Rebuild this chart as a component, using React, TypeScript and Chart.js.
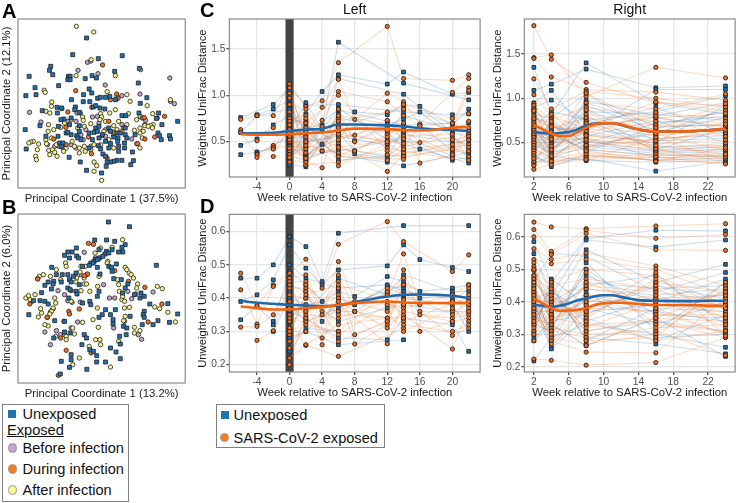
import React, { useEffect, useRef } from "react";
import { Chart, registerables } from "chart.js";

Chart.register(...registerables);

const _ = null;
const FONT = "'Liberation Sans', Arial, sans-serif";
const BLUE = "#2271b0";
const ORANGE = "#f26d1c";
const PURPLE = "#c2a5cf";
const YELLOW = "#f6f38e";
const EDGE = "#222222";

// ---------- PCoA scores (thousandths) ----------
const aUnexposed = [[-38,185],[-80,135],[-2,123],[71,132],[-147,100],[-151,88],[-141,75],[-213,70],[-93,70],[-88,70],[-95,60],[-88,60],[-42,63],[-21,72],[-8,65],[48,85],[123,94],[-195,36],[-123,42],[-30,32],[-22,20],[-192,15],[-223,12],[-84,0],[-47,15],[-48,-6],[-28,-6],[-4,4],[20,7],[33,10],[4,7],[120,50],[146,6],[126,-11],[50,0],[-17,-22],[-10,-18],[-72,-22],[-128,-23],[-114,-25],[-173,-33],[-127,-40],[-74,-30],[-60,-38],[3,-25],[18,-28],[70,-48],[82,-48],[122,-40],[182,-40],[175,-56],[-85,-55],[-107,-58],[-116,-60],[-180,-78],[-225,-90],[-124,-80],[-90,-75],[-60,-78],[-10,-85],[0,-80],[30,-85],[55,-100],[80,-85],[240,-65],[192,-75],[-100,-100],[-85,-105],[-68,-108],[-60,-95],[-30,-100],[-15,-98],[-5,-95],[10,-105],[35,-95],[45,-112],[58,-115],[65,-100],[80,-105],[110,-105],[180,-100],[185,-108],[215,-108],[218,-118],[190,-120],[-162,-110],[-120,-130],[-110,-130],[-115,-140],[-65,-115],[-55,-120],[-20,-120],[0,-115],[20,-125],[35,-132],[57,-125],[78,-130],[85,-115],[-30,-145],[-2,-138],[5,-148],[30,-145],[60,-140],[78,-145],[-222,-148],[60,-155],[102,-157],[12,-163],[20,-170],[55,-182],[45,-185],[35,-187],[25,-187],[70,-182],[105,-183],[97,-195],[22,-200],[-57,-187],[-38,-212],[8,-220],[-91,-173],[-125,-110],[-95,-98]];
const aAfter = [[-69,220],[-16,203],[-70,72],[50,72],[127,90],[-24,120],[-167,28],[-164,22],[25,24],[85,15],[95,-5],[55,10],[-144,-7],[-145,-20],[-162,-35],[-150,-40],[-113,-27],[-50,-52],[-48,-62],[5,-42],[8,-52],[50,-30],[33,-40],[90,-42],[147,-18],[164,-42],[218,0],[126,-50],[115,-60],[-154,-75],[-155,-95],[-138,-90],[-117,-83],[-105,-70],[-85,-60],[-65,-85],[-45,-80],[-25,-72],[3,-60],[20,-65],[45,-78],[60,-65],[85,-75],[125,-85],[140,-78],[165,-75],[158,-78],[150,-80],[163,-85],[135,-95],[125,-100],[108,-92],[70,-95],[55,-90],[-162,-120],[-145,-115],[-200,-125],[-208,-127],[-214,-130],[-184,-133],[-160,-132],[-130,-135],[-82,-125],[-75,-140],[-60,-145],[-45,-140],[-15,-135],[5,-135],[45,-145],[30,-120],[115,-132],[132,-115],[-188,-150],[-153,-152],[-142,-150],[-135,-158],[-150,-165],[-128,-170],[-193,-170],[-191,-180],[-108,-155],[-100,-145],[-15,-187],[-7,-198],[-15,-215],[8,-242],[-60,-160],[-42,-155],[-25,-150],[15,-95],[45,-105],[125,-145]];
const aBefore = [[-35,112],[-25,116],[-64,88],[-3,78],[19,44],[216,65],[70,12],[125,17],[230,-12],[218,-5],[-212,-38],[-177,-67],[-95,-65],[-67,-40],[-57,-40],[-20,-52],[-5,-50],[-40,-90],[-70,-65],[0,-70],[-55,-105],[10,-108],[20,-110],[70,-75],[140,-75],[178,-55],[142,-62],[100,-118],[-157,-135],[-122,-140],[-85,-135],[-70,-145],[-135,-140],[-110,-145],[-25,-140],[-48,-120],[20,-90]];
const aDuring = [[11,104],[-71,27],[54,17],[58,4],[-95,-37],[-22,-23],[30,-65],[132,-55],[138,-54],[200,-50],[-101,-83],[-32,-112],[-138,-118],[-100,-135],[170,-112],[140,-118],[118,-132],[45,-98],[75,-85],[-23,-162],[25,-175],[35,0]];

const bUnexposed = [[29,218],[93,204],[-13,164],[23,164],[48,160],[-69,140],[0,135],[80,150],[70,142],[40,135],[23,130],[-82,128],[-95,128],[-105,118],[-68,116],[-62,110],[-90,110],[60,128],[73,128],[18,122],[30,125],[12,115],[0,110],[-10,105],[-15,100],[-25,95],[-18,95],[-5,105],[-50,85],[-29,88],[53,92],[175,88],[-144,82],[-5,82],[40,70],[30,85],[3,62],[38,82],[-112,60],[-130,60],[-138,40],[-155,38],[-165,28],[-140,32],[-145,17],[-115,38],[-95,60],[-90,45],[-95,20],[-70,65],[-78,55],[-85,38],[-60,30],[-70,10],[-88,15],[-175,6],[-200,-18],[-165,-20],[-155,-28],[-180,-18],[-92,-10],[-67,2],[-50,-25],[-28,-20],[-25,-30],[-5,-5],[0,10],[45,48],[68,45],[88,32],[72,5],[80,20],[128,5],[138,-5],[125,-10],[108,0],[50,-45],[20,-45],[0,-68],[10,-60],[35,-60],[155,-28],[210,-27],[138,-50],[135,-60],[138,-68],[95,-65],[240,-58],[215,-83],[180,-78],[165,-90],[132,-90],[75,-95],[85,-100],[83,-120],[63,-125],[43,-75],[43,-88],[-214,-60],[-105,-80],[-135,-78],[-138,-130],[-105,-112],[-88,-115],[-45,-120],[-38,-130],[-52,-150],[-28,-165],[-85,-180],[-115,-200],[-85,-195],[-90,-218],[-37,-224],[-7,-183],[-7,-202],[20,-202],[65,-192],[52,-172],[35,-160],[65,-148],[-118,-238],[-17,-170]];
const bAfter = [[72,165],[5,140],[40,142],[-12,125],[3,110],[-102,95],[-100,85],[-55,85],[-42,85],[27,100],[25,95],[80,82],[85,75],[92,65],[98,60],[105,50],[-130,75],[-170,60],[-182,55],[-148,55],[-187,48],[-117,45],[-65,60],[-58,68],[-68,50],[-45,50],[-38,60],[-45,32],[57,45],[60,30],[62,10],[118,32],[115,20],[178,25],[193,18],[-4,25],[-28,10],[-55,12],[-223,-10],[-215,-3],[-195,0],[-210,-15],[-135,-10],[-132,-25],[-140,-40],[-145,-50],[-150,-58],[-178,-42],[-175,-55],[-185,-67],[-158,-68],[-85,-20],[-5,-40],[70,-15],[78,-20],[78,-40],[93,-38],[170,-37],[185,-42],[210,-53],[233,-82],[80,-65],[75,-78],[-18,-75],[-2,-98],[-50,-83],[-155,-94],[-165,-90],[-80,-100],[-132,-125],[-100,-125],[-100,-135],[-75,-118],[-10,-135],[3,-135],[5,-150],[-30,-155],[-60,-190],[-80,-210],[35,-217],[108,-98],[125,-108],[108,-115],[60,-140],[72,-5],[0,55],[-38,32],[-70,38]];
const bBefore = [[-45,127],[-11,110],[-57,60],[14,30],[88,10],[165,8],[112,2],[100,-12],[-95,-18],[-82,-23],[-57,-22],[48,-10],[32,-10],[-205,-20],[-148,-52],[-140,-42],[-107,-80],[-165,-112],[-130,-108],[-105,-120],[-118,-120],[-85,-100],[-148,-150],[45,-100],[120,-120],[130,-134],[78,-80],[-125,12],[-105,0],[-65,-82]];
const bDuring = [[-32,154],[-17,151],[-35,62],[-45,57],[48,72],[90,40],[140,22],[-85,12],[-187,47],[-211,-28],[192,-28],[-92,-50],[-90,-58],[-60,-43],[-158,-68],[150,-82],[-117,-130],[-100,-167],[-24,-175],[-124,-242]];

// ---------- Weeks ----------
const leftWeeks = [-6, -4, -2, 0, 2, 4, 6, 8, 12, 14, 16, 20, 22];
const rightWeeks = [2, 4, 8, 16, 24];
const leftTicks = [-4, 0, 4, 8, 12, 16, 20];
const rightTicks = [2, 6, 10, 14, 18, 22];
const weightedLeftYTicks = [0.5, 1.0, 1.5];
const weightedRightYTicks = [0.5, 1.0, 1.5];
const unweightedYTicks = [0.2, 0.3, 0.4, 0.5, 0.6];

// ---------- C, left: weighted UniFrac, one row per subject ----------
const cLeftBlue = [
  [.76,_,.90,1.08,.89,_,.90,_,_,.82,_,.79,.80],
  [_,.79,.85,.95,.80,1.04,1.22,_,1.12,1.25,_,1.01,1.03],
  [.60,.78,_,.85,.45,.68,1.57,_,_,1.13,_,_,.95],
  [.46,.53,.68,.78,.66,_,.50,.82,.79,.90,.88,.68,.85],
  [.36,.39,.43,.62,.92,.63,1.18,_,_,1.01,_,.60,.55],
  [_,.37,_,.55,.55,.47,.80,.51,.68,.74,.82,_,.42],
  [_,_,_,.48,.73,.40,.70,_,.60,.44,.68,.40,.38],
  [_,_,_,.42,.40,_,.86,_,.52,.55,_,.35,.30],
  [_,_,_,.70,.35,_,.60,.40,.34,.48,.42,_,.27],
  [_,_,_,.35,.30,_,.45,.37,.32,.65,_,_,_],
  [_,_,_,.30,.62,_,.35,_,.28,.24,_,_,.38],
  [_,_,_,.25,.23,_,_,_,_,_,_,_,_],
  [_,_,_,1.05,.25,_,.76,_,.64,.78,_,.63,.70],
  [_,_,_,.68,.50,_,.56,_,.46,.58,_,.50,.48],
  [_,_,_,.90,.60,_,.84,_,.72,.68,_,.70,.60],
  [_,_,_,.58,.36,_,.40,_,.50,.52,_,.30,.33],
  [_,_,_,.45,.33,_,.66,_,_,.86,_,_,_],
  [_,_,_,.75,.70,_,.30,_,_,.36,_,_,_],
];
const cLeftOrange = [
  [.74,.78,.78,1.12,.88,.94,1.35,_,1.74,1.18,_,1.16,1.22],
  [.63,.51,.65,1.02,.57,.87,1.17,.74,1.02,.93,.69,1.03,1.18],
  [.60,.36,.46,.90,.48,.73,1.04,_,.93,.78,.67,.70,1.08],
  [_,.33,.44,.45,.44,.66,.55,.57,.73,.50,.49,.64,1.05],
  [_,_,.42,.75,.78,.40,.85,.50,.65,.60,_,.38,.72],
  [_,_,.34,.66,.30,.22,.75,.40,.58,.70,.27,.36,.62],
  [_,_,_,.60,.25,_,.28,_,.43,.40,_,.32,.58],
  [_,_,_,.55,.36,_,.48,_,.18,.36,_,_,.52],
  [_,_,_,.50,.33,_,.42,_,.36,.33,_,_,.47],
  [_,_,_,.82,.60,_,.35,_,.55,.45,_,.55,.44],
  [_,_,_,.40,.52,_,.24,_,.48,.38,_,.45,.34],
  [_,_,_,.36,.70,_,1.0,_,.40,.34,_,.42,.40],
  [_,_,_,.30,.28,_,.65,_,.62,.56,_,.58,.30],
  [_,_,_,.72,.42,_,.60,_,.50,.85,_,_,.65],
  [_,_,_,.97,.65,_,.72,_,.82,.90,_,.75,.80],
  [_,_,_,.33,.46,_,.38,_,.30,.42,_,.47,.52],
  [_,_,_,.28,.55,_,.45,_,_,_,_,_,_],
  [_,_,_,.63,.38,_,.52,_,.68,.62,_,.52,.56],
  [_,_,_,1.08,.50,_,.58,_,_,.48,_,_,_],
  [_,_,_,.52,.85,_,.34,_,_,.31,_,_,_],
  [_,_,_,.43,.32,_,.78,_,_,.66,_,_,_],
  [_,_,_,.68,.75,_,.44,_,_,.53,_,_,_],
];

// ---------- C, right ----------
const cRightBlue = [
  [1.35,.82,1.40,.95,.82],[1.09,1.16,1.33,1.12,1.14],[.95,1.09,.62,1.10,1.10],[.90,.98,.75,.85,1.03],
  [.86,.45,.98,.80,.95],[.82,.78,1.05,.60,.88],[.78,.72,.50,.72,.80],[.74,.36,.85,.82,.75],
  [.71,.62,.40,.68,.70],[.68,.85,.76,.42,.66],[.65,.55,.92,.64,.62],[.62,.52,.70,.90,.60],
  [.60,.30,.66,.55,.58],[.58,.47,.88,.52,.55],[.55,.68,.60,.50,.92],[.52,.43,.57,.75,.50],
  [.50,.41,.80,.45,.47],[.48,.38,.52,.42,.45],[.45,.75,.48,.40,.42],[.43,.33,.46,.38,.40],
  [.40,.60,.42,.36,.36],[.37,.23,.36,.30,.33],[.34,.28,.32,.18,.29],[.30,.50,.55,.33,.35],
  [.88,.64,.68,.78,.68],[.66,.40,.95,.70,.85],[.57,.70,.45,.62,.78],[.27,.35,.30,.28,.30],
];
const cRightOrange = [
  [1.82,1.44,1.18,.95,.92],[1.46,1.49,1.02,1.35,1.23],[1.45,1.24,1.10,1.07,.98],[1.22,.88,1.08,1.00,.90],
  [1.04,.80,.65,.96,.86],[.94,.58,.95,.88,1.05],[.92,.76,.90,.78,.83],[.88,.70,.60,.84,.77],
  [.84,.50,.82,.74,.73],[.80,.66,.78,.65,.94],[.76,.40,.74,.70,.69],[.73,.60,.70,.58,.65],
  [.70,.56,.45,.54,.61],[.67,.48,.67,.80,.57],[.64,.44,.63,.49,.53],[.61,.34,.59,.46,.74],
  [.59,.53,.55,.44,.49],[.56,.82,.51,.41,.46],[.53,.46,.87,.39,.43],[.50,.39,.47,.60,.41],
  [.47,.37,.43,.35,.38],[.44,.32,.39,.33,.35],[.41,.30,.35,.31,.32],[.38,.74,.30,.56,.30],
  [.35,.42,.72,.43,.28],[.32,.27,.37,.30,.27],[.28,.29,.33,.37,.34],[.25,.62,.41,.29,.44],
  [.24,.35,.53,.47,.37],[.20,.25,.31,.34,.26],[.86,.54,1.06,.67,.71],[.77,.68,.58,.52,.64],
];

// ---------- D, left: unweighted UniFrac ----------
const dLeftBlue = [
  [.46,.46,.50,.585,.555,.45,.595,_,_,.618,_,_,.618],
  [.39,.41,.455,.56,.49,.44,.485,_,.497,.56,.516,.492,.48],
  [.335,.375,.33,.48,.44,.39,.42,.405,.465,.45,.42,.43,.44],
  [_,_,.32,.44,.42,.33,.40,.38,.435,.43,.40,.41,.40],
  [_,_,.30,.40,.38,_,.36,.36,.42,.40,_,.38,.30],
  [_,_,_,.36,.34,_,.28,_,.275,.34,_,.32,.24],
  [_,_,_,.28,.30,_,.26,_,_,.275,_,_,_],
  [_,_,_,.42,.36,_,.46,_,.41,.47,_,.42,.42],
  [_,_,_,.33,.40,_,.33,_,.37,.38,_,.36,.36],
  [_,_,_,.24,.31,_,.30,_,_,_,_,_,_],
  [_,_,_,.50,.46,_,.43,_,.44,.42,_,.40,.38],
  [_,_,_,.38,.33,_,.37,_,_,.44,_,_,_],
];
const dLeftOrange = [
  [.475,.377,.44,.475,.517,.43,.562,_,.63,.57,_,.48,.53],
  [.425,.322,.435,.46,.47,.36,.51,.39,.41,.533,.38,.39,.43],
  [.313,.315,.35,.45,.45,.35,.47,.36,.34,.485,.36,.36,.38],
  [_,.273,.302,.43,.43,.28,.45,.29,.33,.46,.35,.34,.35],
  [_,_,_,.41,.40,.26,.41,.262,.32,.44,.30,.33,.34],
  [_,_,_,.39,.37,_,.38,_,.263,.395,_,.288,.31],
  [_,_,_,.37,.35,_,.34,_,.39,.35,_,.247,.37],
  [_,_,_,.35,.32,_,.30,_,.42,.33,_,_,.40],
  [_,_,_,.33,.258,_,.225,_,_,.31,_,_,_],
  [_,_,_,.31,.38,_,.40,_,.36,.30,_,.37,.33],
  [_,_,_,.29,.42,_,.29,_,.38,.37,_,.41,.44],
  [_,_,_,.25,.33,_,.36,_,.43,.41,_,.35,.36],
  [_,_,_,.22,.26,_,.32,_,.34,.32,_,.30,.32],
  [_,_,_,.20,.36,_,.43,_,_,_,_,_,_],
  [_,_,_,.44,.34,_,.27,_,.33,.44,_,.39,.39],
  [_,_,_,.27,.30,_,.39,_,.31,.36,_,.33,.41],
  [_,_,_,.34,.44,_,.35,_,_,.34,_,_,_],
  [_,_,_,.30,.41,_,.44,_,_,.38,_,_,_],
];

// ---------- D, right ----------
const dRightBlue = [
  [.585,.46,.595,.62,.618],[.548,.42,.59,.568,.59],[.48,.39,.56,.46,.515],[.46,.55,.54,.43,.49],
  [.44,.36,.48,.40,.47],[.42,.30,.42,.37,.43],[.40,.26,.38,.33,.40],[.38,.255,.35,.28,.36],
  [.36,.44,.29,.27,.24],[.28,.33,.265,.35,.232],[.218,.29,.33,.30,.26],[.50,.40,.46,.44,.45],
  [.47,.38,.44,.42,.44],[.43,.35,.40,.41,.42],[.41,.43,.37,.39,.38],[.39,.32,.50,.36,.35],
  [.37,.37,.45,.48,.33],[.35,.41,.31,.34,.31],[.33,.31,.52,.31,.46],[.31,.45,.28,.38,.37],
  [.29,.34,.36,.45,.41],[.45,.28,.43,.29,.30],[.34,.42,.34,.41,.39],[.30,.47,.39,.37,.34],
];
const dRightOrange = [
  [.645,.63,.625,.633,.64],[.622,.555,.62,.595,.607],[.60,.545,.61,.56,.558],[.563,.53,.55,.51,.45],
  [.53,.517,.53,.50,.42],[.51,.465,.50,.48,.39],[.495,.45,.47,.44,.35],[.48,.43,.44,.41,.32],
  [.47,.38,.38,.37,.30],[.45,.35,.33,.34,.29],[.43,.32,.30,.31,.235],[.41,.29,.27,.30,.44],
  [.39,.28,.245,.243,.41],[.37,.40,.36,.46,.43],[.35,.33,.42,.39,.37],[.33,.44,.31,.35,.34],
  [.31,.37,.49,.33,.31],[.224,.22,.205,.213,.29],[.50,.36,.45,.43,.40],[.46,.41,.35,.47,.38],
  [.44,.34,.41,.36,.36],[.42,.31,.29,.32,.33],[.40,.27,.39,.42,.35],[.38,.46,.28,.29,.46],
  [.36,.30,.46,.38,.30],[.34,.42,.32,.40,.42],[.32,.39,.34,.28,.31],[.30,.36,.40,.45,.38],
  [.28,.35,.37,.49,.295],[.52,.33,.265,.35,.43],
];

// ---------- Smooth trends ----------
const cLeftBlueTrend = [.59,.59,.595,.615,.63,.64,.685,.685,.675,.665,.645,.625,.615];
const cLeftOrangeTrend = [.58,.575,.575,.58,.59,.60,.62,.64,.635,.625,.62,.65,.66];
const dLeftBlueTrend = [.392,.386,.383,.38,.378,.376,.378,.388,.405,.41,.411,.407,.40];
const dLeftOrangeTrend = [.375,.37,.366,.366,.37,.373,.38,.385,.39,.387,.386,.385,.385];
const rightTrendWeeks = [2,3,4,5,6,7,8,9,10,11,12,14,16,18,20,22,24];
const cRightBlueTrend = [.62,.61,.60,.61,.62,.65,.69,.715,.72,.72,.70,.65,.625,.625,.63,.64,.655];
const cRightOrangeTrend = [.70,.65,.60,.575,.575,.62,.67,.71,.72,.72,.705,.65,.625,.625,.63,.64,.66];
const dRightBlueTrend = [.39,.388,.385,.388,.395,.405,.41,.417,.42,.42,.415,.405,.403,.402,.402,.403,.403];
const dRightOrangeTrend = [.41,.395,.38,.372,.373,.375,.38,.39,.395,.397,.397,.393,.39,.39,.39,.388,.387];

const boxPlugin = {
  id: "panelBox",
  beforeDatasetsDraw(chart: any) {
    const o = chart.options.plugins.panelBox || {};
    const { ctx, chartArea: a, scales } = chart;
    if (o.band) {
      const x0 = scales.x.getPixelForValue(o.band[0]);
      const x1 = scales.x.getPixelForValue(o.band[1]);
      ctx.save();
      ctx.fillStyle = "#444444";
      ctx.fillRect(x0, a.top, x1 - x0, a.bottom - a.top);
      ctx.restore();
    }
  },
  afterDraw(chart: any) {
    const { ctx, chartArea: a } = chart;
    ctx.save();
    ctx.strokeStyle = "#808080";
    ctx.lineWidth = 1.1;
    ctx.strokeRect(a.left, a.top, a.right - a.left, a.bottom - a.top);
    ctx.restore();
  },
};
Chart.register(boxPlugin);

function useChart(make: () => any) {
  const ref = useRef<HTMLCanvasElement>(null);
  useEffect(() => {
    const c = new Chart(ref.current as HTMLCanvasElement, make());
    return () => c.destroy();
  }, []);
  return ref;
}

const canvasStyle = (left: number, top: number): React.CSSProperties => ({ position: "absolute", left, top });

const cloud = (pts: number[][], color: string, style: string, r: number) => ({
  type: "scatter",
  data: pts.map(([x, y]) => ({ x, y })),
  backgroundColor: color,
  borderColor: EDGE,
  borderWidth: 0.8,
  pointStyle: style,
  pointRadius: r,
  showLine: false,
});

function Pcoa(props: any) {
  const ref = useChart(() => ({
    type: "scatter",
    data: {
      // Chart.js paints the first dataset last, so the list runs top layer first.
      datasets: [
        cloud(props.unexposed, BLUE, "rect", 2.8),
        cloud(props.during, ORANGE, "circle", 2.2),
        cloud(props.after, YELLOW, "circle", 2.2),
        cloud(props.before, PURPLE, "circle", 2.2),
      ],
    },
    options: {
      animation: false,
      responsive: false,
      layout: { padding: { top: props.padTop, right: 2, left: 0, bottom: 0 } },
      plugins: { legend: { display: false }, tooltip: { enabled: false } },
      scales: {
        x: {
          type: "linear", min: -247, max: 263,
          ticks: { display: false }, grid: { display: false }, border: { display: false },
          title: { display: true, text: props.xTitle, color: "#1a1a1a", font: { family: FONT, size: 11.3 }, padding: { top: 0, bottom: 1 } },
          afterFit: (s: any) => { s.height = 19; },
        },
        y: {
          type: "linear", min: -265, max: 242,
          ticks: { display: false }, grid: { display: false }, border: { display: false },
          title: { display: true, text: props.yTitle, color: "#1a1a1a", font: { family: FONT, size: 11.3 }, padding: { top: 0, bottom: 0 } },
          afterFit: (s: any) => { s.width = 18; },
        },
      },
    },
  }));
  return <canvas ref={ref} width={190} height={props.height} style={canvasStyle(0, props.top)} />;
}

const subjectLines = (rows: (number | null)[][], weeks: number[], color: string) =>
  rows.map((row) => ({
    type: "line",
    data: row.map((y, i) => ({ x: weeks[i], y })).filter((p) => p.y !== null),
    borderColor: color,
    borderWidth: 1.1,
    pointRadius: 0,
    fill: false,
  }));

const subjectPoints = (rows: (number | null)[][], weeks: number[], color: string, style: string, r: number) => ({
  type: "line",
  data: rows.flatMap((row) => row.map((y, i) => ({ x: weeks[i], y })).filter((p) => p.y !== null)),
  showLine: false,
  backgroundColor: color,
  borderColor: EDGE,
  borderWidth: 0.9,
  pointStyle: style,
  pointRadius: r,
});

const trend = (ws: number[], ys: number[], color: string) => ({
  type: "line",
  data: ys.map((y, i) => ({ x: ws[i], y })),
  borderColor: color,
  borderWidth: 2.6,
  pointRadius: 0,
  tension: 0.4,
  cubicInterpolationMode: "monotone",
  fill: false,
});

function Spaghetti(props: any) {
  const ref = useChart(() => ({
    type: "line",
    data: {
      // Chart.js paints the first dataset last, so the list runs top layer first.
      datasets: [
        trend(props.trendWeeks, props.orangeTrend, "#f4640f"),
        trend(props.trendWeeks, props.blueTrend, "#1f68ad"),
        subjectPoints(props.orange, props.weeks, ORANGE, "circle", 2.1),
        subjectPoints(props.blue, props.weeks, BLUE, "rect", 2.6),
        ...subjectLines(props.orange, props.weeks, "rgba(243,120,40,0.26)"),
        ...subjectLines(props.blue, props.weeks, "rgba(40,115,180,0.24)"),
      ],
    },
    options: {
      animation: false,
      responsive: false,
      layout: { padding: { top: props.padTop, right: props.padRight, left: 0, bottom: 0 } },
      plugins: {
        legend: { display: false },
        tooltip: { enabled: false },
        panelBox: { band: props.band },
        title: {
          display: !!props.title,
          text: props.title,
          color: "#111",
          fullSize: false,
          font: { family: FONT, size: 14, weight: "normal", lineHeight: 1 },
          padding: { top: 3, bottom: 2 },
        },
      },
      scales: {
        x: {
          type: "linear",
          min: props.xMin,
          max: props.xMax,
          afterBuildTicks: (s: any) => { s.ticks = props.xTicks.map((value: number) => ({ value })); },
          ticks: { color: "#4d4d4d", font: { family: FONT, size: 10.2 }, padding: 1, maxRotation: 0, callback: (v: any) => String(v) },
          grid: { color: "#e6e6e6", lineWidth: 1.3, tickColor: "#555", tickLength: 3 },
          border: { display: false },
          title: { display: true, text: "Week relative to SARS-CoV-2 infection", color: "#1a1a1a", font: { family: FONT, size: 11.3 }, padding: { top: 0, bottom: 2 } },
          afterFit: (s: any) => { s.height = 30; },
        },
        y: {
          type: "linear",
          min: props.yMin,
          max: props.yMax,
          afterBuildTicks: (s: any) => { s.ticks = props.yTicks.map((value: number) => ({ value })); },
          ticks: { color: "#4d4d4d", font: { family: FONT, size: 10.2 }, padding: 1, callback: (v: any) => Number(v).toFixed(1) },
          grid: { color: "#e6e6e6", lineWidth: 1.3, tickColor: "#555", tickLength: 3 },
          border: { display: false },
          title: { display: true, text: props.yTitle, color: "#1a1a1a", font: { family: FONT, size: 11.3 }, padding: { top: props.titleInset, bottom: 0 } },
          afterFit: (s: any) => { s.width = props.yWidth; },
        },
      },
    },
  }));
  return <canvas ref={ref} width={props.width} height={props.height} style={canvasStyle(props.left, props.top)} />;
}

const text = (left: number, top: number, extra: React.CSSProperties = {}): React.CSSProperties => ({
  position: "absolute",
  left,
  top,
  fontFamily: FONT,
  whiteSpace: "nowrap",
  color: "#111",
  ...extra,
});

const Letter = ({ x, y, c }: { x: number; y: number; c: string }) => (
  <div style={text(x, y, { fontSize: 20, fontWeight: 700, lineHeight: "20px", color: "#000" })}>{c}</div>
);

const Marker = ({ x, y, color, square }: { x: number; y: number; color: string; square?: boolean }) => {
  const size = square ? 8 : 9.5;
  return (
    <div
      style={{
        position: "absolute",
        left: x - size / 2,
        top: y - size / 2,
        width: size,
        height: size,
        boxSizing: "border-box",
        background: color,
        borderRadius: square ? 0 : "50%",
        border: square ? "none" : "0.7px solid #999",
      }}
    />
  );
};

const LegendText = ({ x, y, t, u }: { x: number; y: number; t: string; u?: boolean }) => (
  <div style={text(x, y - 9, { fontSize: 14.6, lineHeight: "18px", textDecoration: u ? "underline" : "none" })}>{t}</div>
);

const legendBox = (left: number, top: number, width: number, height: number): React.CSSProperties => ({
  position: "absolute",
  left,
  top,
  width,
  height,
  boxSizing: "border-box",
  border: "1.2px solid #808080",
  background: "#fff",
});

export default function App() {
  return (
    <div style={{ position: "absolute", left: 0, top: 0, width: 740, height: 503, background: "#fff", overflow: "hidden" }}>
      <Pcoa unexposed={aUnexposed} after={aAfter} before={aBefore} during={aDuring} top={0} height={207} padTop={19}
        xTitle="Principal Coordinate 1 (37.5%)" yTitle="Principal Coordinate 2 (12.1%)" />
      <Pcoa unexposed={bUnexposed} after={bAfter} before={bBefore} during={bDuring} top={195} height={207} padTop={19}
        xTitle="Principal Coordinate 1 (13.2%)" yTitle="Principal Coordinate 2 (6.0%)" />

      <Spaghetti left={195} top={0} width={290} height={207} padTop={0} padRight={2.3} yWidth={34.3} titleInset={1} title="Left"
        weeks={leftWeeks} blue={cLeftBlue} orange={cLeftOrange} trendWeeks={leftWeeks} blueTrend={cLeftBlueTrend} orangeTrend={cLeftOrangeTrend}
        xMin={-7.4} xMax={23.4} xTicks={leftTicks} yMin={0.12} yMax={1.82} yTicks={weightedLeftYTicks} band={[-0.5, 0.5]} yTitle="Weighted UniFrac Distance" />
      <Spaghetti left={488} top={0} width={252} height={207} padTop={0} padRight={1} yWidth={36.3} titleInset={3} title="Right"
        weeks={rightWeeks} blue={cRightBlue} orange={cRightOrange} trendWeeks={rightTrendWeeks} blueTrend={cRightBlueTrend} orangeTrend={cRightOrangeTrend}
        xMin={0.9} xMax={25.1} xTicks={rightTicks} yMin={0.113} yMax={1.895} yTicks={weightedRightYTicks} yTitle="Weighted UniFrac Distance" />
      <Spaghetti left={195} top={200} width={290} height={202} padTop={14.3} padRight={2.3} yWidth={34.3} titleInset={1}
        weeks={leftWeeks} blue={dLeftBlue} orange={dLeftOrange} trendWeeks={leftWeeks} blueTrend={dLeftBlueTrend} orangeTrend={dLeftOrangeTrend}
        xMin={-7.4} xMax={23.4} xTicks={leftTicks} yMin={0.178} yMax={0.652} yTicks={unweightedYTicks} band={[-0.5, 0.5]} yTitle="Unweighted UniFrac Distance" />
      <Spaghetti left={488} top={200} width={252} height={202} padTop={14.3} padRight={1} yWidth={36.3} titleInset={3}
        weeks={rightWeeks} blue={dRightBlue} orange={dRightOrange} trendWeeks={rightTrendWeeks} blueTrend={dRightBlueTrend} orangeTrend={dRightOrangeTrend}
        xMin={0.9} xMax={25.1} xTicks={rightTicks} yMin={0.184} yMax={0.669} yTicks={unweightedYTicks} yTitle="Unweighted UniFrac Distance" />

      <Letter x={2} y={1} c="A" />
      <Letter x={2} y={197} c="B" />
      <Letter x={200} y={0} c="C" />
      <Letter x={200} y={196} c="D" />

      <div style={legendBox(2, 404, 127, 98)} />
      <Marker x={12} y={414} color={BLUE} square />
      <LegendText x={22.5} y={414} t="Unexposed" />
      <LegendText x={7} y={430} t="Exposed" u />
      <Marker x={12.5} y={448} color={PURPLE} />
      <LegendText x={22.5} y={448} t="Before infection" />
      <Marker x={12.5} y={469} color="#f57c20" />
      <LegendText x={22.5} y={469} t="During infection" />
      <Marker x={12.5} y={490} color="#fafa9a" />
      <LegendText x={22.5} y={490} t="After infection" />

      <div style={legendBox(215.5, 404, 169, 44)} />
      <Marker x={224.5} y={415} color={BLUE} square />
      <LegendText x={233.5} y={415} t="Unexposed" />
      <Marker x={224.5} y={437.5} color="#f57c20" />
      <LegendText x={233.5} y={437.5} t="SARS-CoV-2 exposed" />
    </div>
  );
}
